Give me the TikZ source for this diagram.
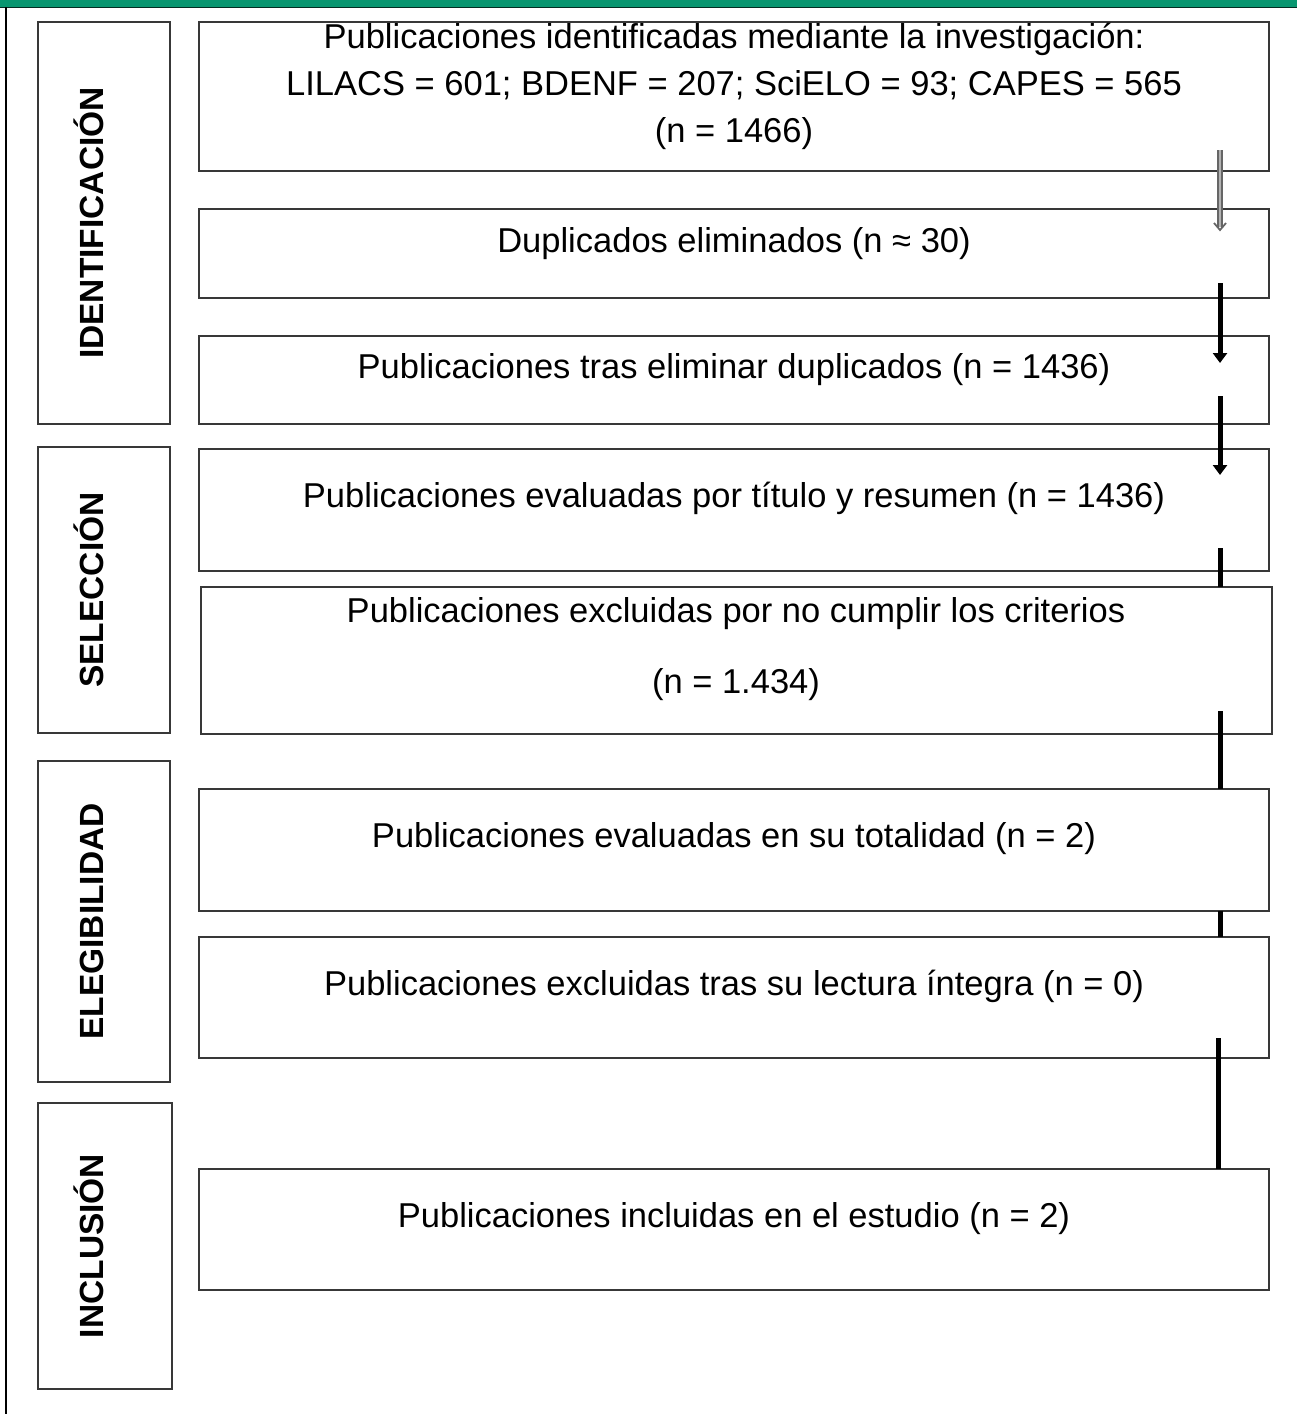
\documentclass[tikz,border=0pt]{standalone}
\usepackage{fontspec}
\setmainfont{Liberation Sans}
\usetikzlibrary{arrows.meta,calc}
\definecolor{topgreen}{HTML}{089670}
\begin{document}
\begin{tikzpicture}[x=1pt,y=-1pt,
  box/.style={draw=black!78, line width=2.8pt, outer sep=0pt, inner sep=0pt, anchor=north west},
  txt/.style={font=\fontsize{34.5}{47}\selectfont, anchor=base, inner sep=0pt},
  lab/.style={font=\bfseries\fontsize{33.5}{40}\selectfont, rotate=90, anchor=base, inner sep=0pt},
  conn/.style={line width=5pt, black},
  arr/.style={conn, -{Triangle[length=10pt,width=14pt]}}]
\path[use as bounding box] (0,0) rectangle (1297,1414);
\fill[white] (0,0) rectangle (1297,1414);
\fill[topgreen] (0,0) rectangle (1297,7);
\draw[black!70!topgreen, line width=1pt] (0,7) -- (1297,7);
\draw[line width=1.5pt] (6,7) -- (6,1414);

% stage boxes
\node[box, minimum width=132pt, minimum height=402pt] (L1) at (38,22) {};
\node[box, minimum width=132pt, minimum height=286pt] (L2) at (38,447) {};
\node[box, minimum width=132pt, minimum height=321pt] (L3) at (38,761) {};
\node[box, minimum width=134pt, minimum height=286pt] (L4) at (38,1103) {};
\node[lab] (l1) at ($(L1.center)+(-1,0)$) {IDENTIFICACIÓN};
\node[lab] (l2) at ($(L2.center)+(-1,0)$) {SELECCIÓN};
\node[lab] (l3) at ($(L3.center)+(-1,0)$) {ELEGIBILIDAD};
\node[lab] (l4) at ($(L4.center)+(-2,0)$) {INCLUSIÓN};

% content boxes
\node[box, minimum width=1070pt, minimum height=149pt] (b1) at (199,22) {};
\node[box, minimum width=1070pt, minimum height=89pt] (b2) at (199,209) {};
\node[box, minimum width=1070pt, minimum height=88pt] (b3) at (199,336) {};
\node[box, minimum width=1070pt, minimum height=122pt] (b4) at (199,449) {};
\node[box, minimum width=1071pt, minimum height=147pt] (b5) at (201,587) {};
\node[box, minimum width=1070pt, minimum height=122pt] (b6) at (199,789) {};
\node[box, minimum width=1070pt, minimum height=121pt] (b7) at (199,937) {};
\node[box, minimum width=1070pt, minimum height=121pt] (b8) at (199,1169) {};

\node[txt] (t1a) at (734,48) {Publicaciones identificadas mediante la investigación:};
\node[txt] (t1b) at (734,95) {LILACS = 601; BDENF = 207; SciELO = 93; CAPES = 565};
\node[txt] (t1c) at (734,142) {(n = 1466)};
\node[txt] (t2) at (734,252) {Duplicados eliminados (n ≈ 30)};
\node[txt] (t3) at (734,378) {Publicaciones tras eliminar duplicados (n = 1436)};
\node[txt] (t4) at (734,507) {Publicaciones evaluadas por título y resumen (n = 1436)};
\node[txt] (t5a) at (736,622) {Publicaciones excluidas por no cumplir los criterios};
\node[txt] (t5b) at (736,693) {(n = 1.434)};
\node[txt] (t6) at (734,847) {Publicaciones evaluadas en su totalidad (n = 2)};
\node[txt] (t7) at (734,995) {Publicaciones excluidas tras su lectura íntegra (n = 0)};
\node[txt] (t8) at (734,1227) {Publicaciones incluidas en el estudio (n = 2)};

% connectors
\coordinate (g1) at ($(b1.south east)+(-49,-21)$);
\coordinate (g2) at ($(b2.north east)+(-49,21)$);
\draw[draw=black!60, double=black!30, double distance=2.6pt, line width=1.5pt] (g1) -- ($(g2)+(0,-3)$);
\draw[black!60, line width=1.8pt] ($(g2)+(-6,-7)$) -- (g2) -- ($(g2)+(6,-7)$);
\draw[arr] ($(b2.south east)+(-49,-15)$) -- ($(b3.north east)+(-49,27)$);
\draw[arr] ($(b3.south east)+(-49,-28)$) -- ($(b4.north east)+(-49,26)$);
\draw[conn] ($(b4.south east)+(-49,-23)$) -- ($(b5.north east)+(-52,0)$);
\draw[conn] ($(b5.south east)+(-52,-23)$) -- ($(b6.north east)+(-49,0)$);
\draw[conn] (b6.south east) ++(-49,0) -- ($(b7.north east)+(-49,0)$);
\draw[conn] ($(b7.south east)+(-51,-20)$) -- ($(b8.north east)+(-51,0)$);
\end{tikzpicture}
\end{document}
